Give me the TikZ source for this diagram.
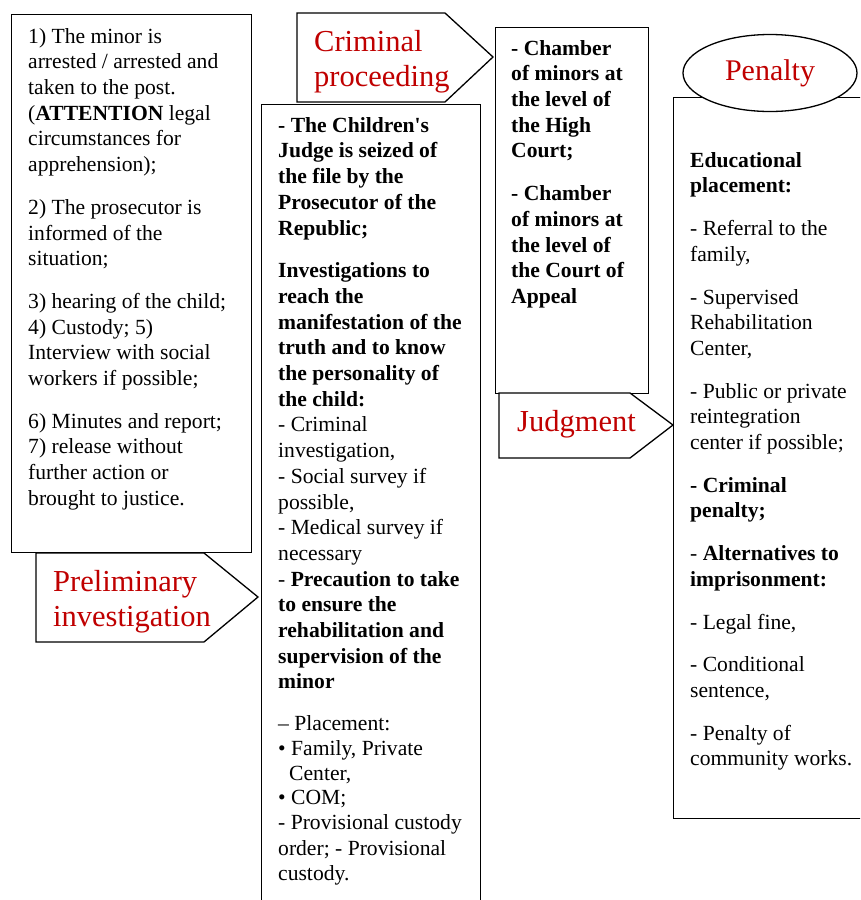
\documentclass[tikz,border=0pt]{standalone}
\usepackage{fontspec}
\setmainfont{Liberation Serif}
\usetikzlibrary{positioning}
\usetikzlibrary{shapes.geometric}
\definecolor{tagred}{RGB}{192,0,0}

\tikzset{
  panel/.style={draw, line width=1.3pt, anchor=north west, inner sep=0pt},
  body/.style={align=left, inner sep=0pt, anchor=north west,
    font=\fontsize{21.6}{25.7}\selectfont},
  tag/.style={draw, line width=1.3pt, fill=white},
  tagtext/.style={text=tagred, align=left, inner sep=0pt, anchor=north west,
    font=\fontsize{30.5}{35.5}\selectfont},
}

\begin{document}
\begin{tikzpicture}[x=1pt, y=-1pt]
  \useasboundingbox (0,0) rectangle (860,900);
  \clip (0,0) rectangle (860,900);

  % Define boxes
  \node[panel, minimum width=240pt, minimum height=538pt] (steps) at (11,14) {};
  \node[panel, minimum width=219pt, minimum height=820pt] (seizure) at (261,104) {};
  \node[panel, minimum width=153pt, minimum height=366pt] (chamber) at (495,27) {};
  \node[panel, minimum width=200pt, minimum height=721pt] (sentence) at (673,97) {};

  % Box texts
  \node[body, below right=11pt and 17pt of steps.north west] (stepstext)
    {\strut 1) The minor is\\ arrested / arrested and\\ taken to the post.\\
     (\textbf{ATTENTION} legal\\ circumstances for\\ apprehension);\\[17pt]
     2) The prosecutor is\\ informed of the\\ situation;\\[17pt]
     3) hearing of the child;\\ 4) Custody; 5)\\ Interview with social\\
     workers if possible;\\[17pt]
     6) Minutes and report;\\ 7) release without\\ further action or\\
     brought to justice.};
  \node[body, below right=10pt and 17pt of seizure.north west] (seizuretext)
    {\strut\textbf{- The Children\textquotesingle s}\\ \textbf{Judge is seized of}\\
     \textbf{the file by the}\\
     \textbf{Prosecutor of the}\\ \textbf{Republic;}\\[17pt]
     \textbf{Investigations to}\\ \textbf{reach the}\\ \textbf{manifestation of the}\\
     \textbf{truth and to know}\\ \textbf{the personality of}\\ \textbf{the child:}\\
     - Criminal\\ investigation,\\ - Social survey if\\ possible,\\
     - Medical survey if\\ necessary\\
     - \textbf{Precaution to take}\\ \textbf{to ensure the}\\ \textbf{rehabilitation and}\\
     \textbf{supervision of the}\\ \textbf{minor}\\[16pt]
     -- Placement:\\[-1pt] \textbullet\ Family, Private\\[-1pt] \hspace*{11pt}Center,\\[-1pt]
     \textbullet\ COM;\\[-1pt] - Provisional custody\\ order; - Provisional\\ custody.};
  \node[body, below right=10pt and 16pt of chamber.north west] (chambertext)
    {\strut\textbf{- Chamber}\\ \textbf{of minors at}\\ \textbf{the level of}\\
     \textbf{the High}\\ \textbf{Court;}\\[17pt]
     \textbf{- Chamber}\\ \textbf{of minors at}\\ \textbf{the level of}\\
     \textbf{the Court of}\\ \textbf{Appeal}};
  \node[body, below right=52pt and 17pt of sentence.north west] (sentencetext)
    {\strut\textbf{Educational}\\ \textbf{placement:}\\[17pt]
     - Referral to the\\ family,\\[17pt]
     - Supervised\\ Rehabilitation\\ Center,\\[17pt]
     - Public or private\\ reintegration\\ center if possible;\\[17pt]
     \textbf{- Criminal}\\ \textbf{penalty;}\\[17pt]
     - \textbf{Alternatives to}\\ \textbf{imprisonment:}\\[17pt]
     - Legal fine,\\[17pt]
     - Conditional\\ sentence,\\[17pt]
     - Penalty of\\ community works.};

  % Stage tags
  \draw[tag] (36,553) -- (204,553) -- (258,597) -- (204,642) -- (36,642) -- cycle;
  \node[tagtext] (prelim) at (53,566) {\strut Preliminary\\ investigation};
  \draw[tag] (297,13) -- (445,13) -- (493,57) -- (445,102) -- (297,102) -- cycle;
  \node[tagtext] (proceeding) at (314,26) {\strut Criminal\\ proceeding};
  \draw[tag] (499,393) -- (630,393) -- (673,425) -- (630,458) -- (499,458) -- cycle;
  \node[tagtext, anchor=base west] (judgment) at (517,431) {Judgment};
  \node[ellipse, draw, line width=1.3pt, fill=white, minimum width=174pt,
    minimum height=77pt, text=tagred, font=\fontsize{30}{35}\selectfont]
    (penalty) at (770,73) {Penalty};

\end{tikzpicture}
\end{document}
